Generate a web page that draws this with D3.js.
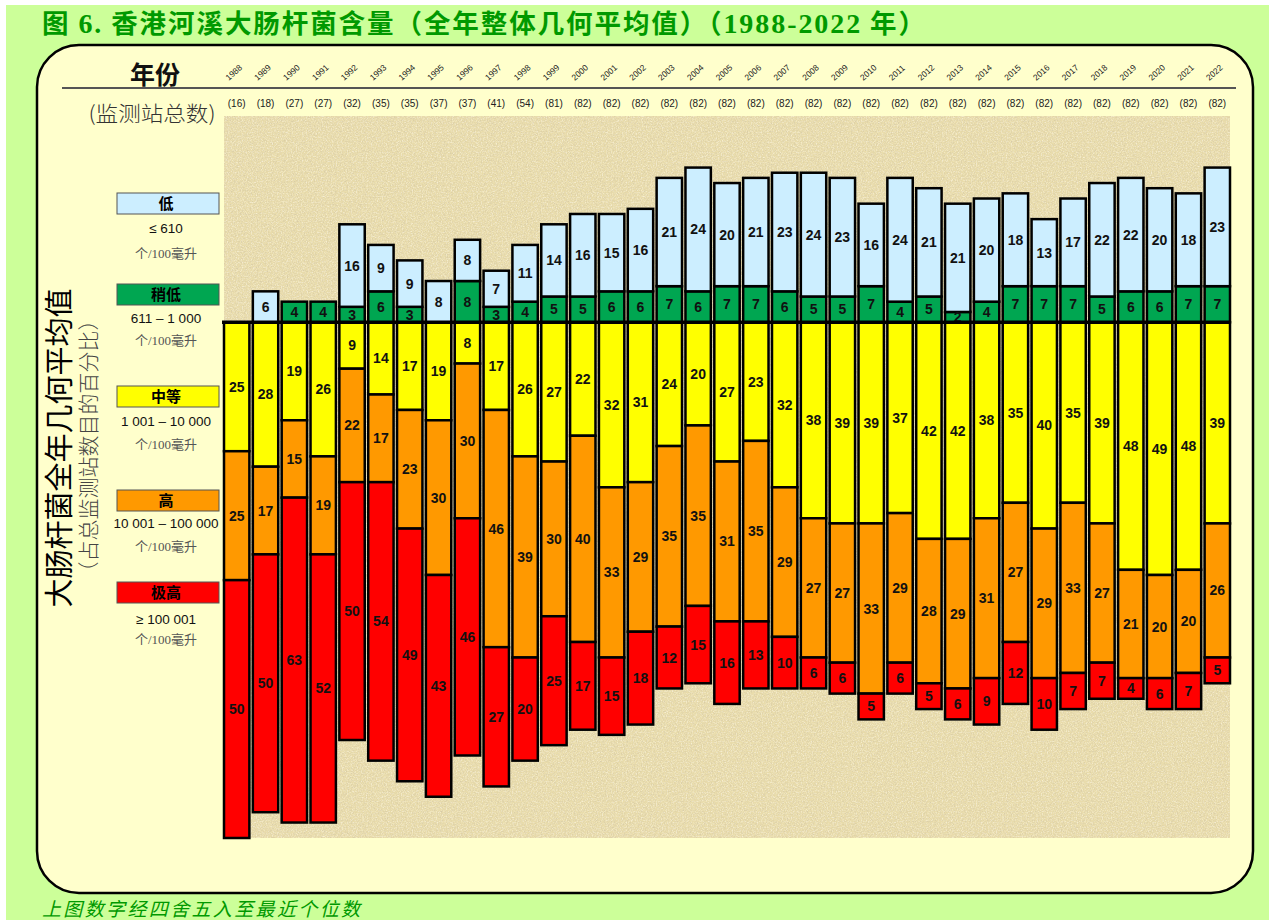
<!DOCTYPE html>
<html>
<head>
<meta charset="utf-8">
<script src="https://cdn.jsdelivr.net/npm/d3@7"></script>
<style>
  html, body { margin: 0; padding: 0; background: #ffffff; }
  svg { display: block; }
</style>
</head>
<body>
<svg id="chart" width="1269" height="920"></svg>
<script>
// ---------------- DATA ----------------
const years = ["1988","1989","1990","1991","1992","1993","1994","1995","1996","1997","1998","1999","2000","2001","2002","2003","2004","2005","2006","2007","2008","2009","2010","2011","2012","2013","2014","2015","2016","2017","2018","2019","2020","2021","2022"];
const stations = [16,18,27,27,32,35,35,37,37,41,54,81,82,82,82,82,82,82,82,82,82,82,82,82,82,82,82,82,82,82,82,82,82,82,82];
// percentages of stations in each grade
const low      = [0,6,0,0,16,9,9,8,8,7,11,14,16,15,16,21,24,20,21,23,24,23,16,24,21,21,20,18,13,17,22,22,20,18,23];
const fairlyLow= [0,0,4,4,3,6,3,0,8,3,4,5,5,6,6,7,6,7,7,6,5,5,7,4,5,2,4,7,7,7,5,6,6,7,7];
const moderate = [25,28,19,26,9,14,17,19,8,17,26,27,22,32,31,24,20,27,23,32,38,39,39,37,42,42,38,35,40,35,39,48,49,48,39];
const high     = [25,17,15,19,22,17,23,30,30,46,39,30,40,33,29,35,35,31,35,29,27,27,33,29,28,29,31,27,29,33,27,21,20,20,26];
const veryHigh = [50,50,63,52,50,54,49,43,46,27,20,25,17,15,18,12,15,16,13,10,6,6,5,6,5,6,9,12,10,7,7,4,6,7,5];

const gradeNames  = ["低","稍低","中等","高","极高"];
const gradeRanges = ["≤ 610","611 – 1 000","1 001 – 10 000","10 001 – 100 000","≥ 100 001"];
const gradeUnit   = "个/100毫升";
const gradeColors = ["#cceeff","#00a651","#ffff00","#ff9900","#ff0000"];

const titleParts  = [["图 ","cjk"],["6.","ser"],[" 香港河溪大肠杆菌含量（全年整体几何平均值）（","cjk"],["1988-2022","ser"],[" 年）","cjk"]];
const yTitle1     = "大肠杆菌全年几何平均值";
const yTitle2     = "（占总监测站数目的百分比）";
const yearHeader  = "年份";
const stationHeader = "(监测站总数)";
const footnote    = "上图数字经四舍五入至最近个位数";

// ---------------- LAYOUT ----------------
const svg = d3.select("#chart");
const plot = {left: 224, right: 1230, top: 116, bottom: 838};

const x = d3.scaleBand().domain(years).range([plot.left, plot.right]).paddingInner(0.12).paddingOuter(0);
const y = d3.scaleLinear().domain([-100, 40]).range([plot.bottom, plot.top]);

// defs: texture
const defs = svg.append("defs");
const f = defs.append("filter").attr("id","sand").attr("x",0).attr("y",0).attr("width",1).attr("height",1);
f.append("feTurbulence").attr("type","fractalNoise").attr("baseFrequency","0.7").attr("numOctaves",3).attr("seed",3).attr("result","n");
f.append("feColorMatrix").attr("in","n").attr("type","matrix")
  .attr("values","0 0 0 0 0.66  0 0 0 0 0.58  0 0 0 0 0.38  2.2 0 0 0 -0.95").attr("result","c");
f.append("feComposite").attr("in","c").attr("in2","SourceGraphic").attr("operator","in");
const f2 = defs.append("filter").attr("id","sand2").attr("x",0).attr("y",0).attr("width",1).attr("height",1);
f2.append("feTurbulence").attr("type","fractalNoise").attr("baseFrequency","0.8").attr("numOctaves",2).attr("seed",9).attr("result","n");
f2.append("feColorMatrix").attr("in","n").attr("type","matrix")
  .attr("values","0 0 0 0 1  0 0 0 0 0.96  0 0 0 0 0.82  2.2 0 0 0 -1.0").attr("result","c");
f2.append("feComposite").attr("in","c").attr("in2","SourceGraphic").attr("operator","in");

// page background
svg.append("rect").attr("x",6).attr("y",5).attr("width",1263).attr("height",915).attr("fill","#ccff99");

// title
const title = svg.append("text").attr("x",42).attr("y",33)
  .attr("font-weight","bold").attr("fill","#009900")
  .attr("textLength",883).attr("lengthAdjust","spacing");
titleParts.forEach(([t,k]) => {
  title.append("tspan")
    .attr("font-family", k === "ser" ? "'Liberation Serif', serif" : "'Noto Sans CJK SC', sans-serif")
    .attr("font-size", k === "ser" ? 28 : 26.5)
    .text(t);
});

// panel
svg.append("rect").attr("x",37).attr("y",45).attr("width",1216).attr("height",848)
  .attr("rx",42).attr("ry",42).attr("fill","#ffffcc").attr("stroke","#000").attr("stroke-width",2.5);

// plot background
svg.append("rect").attr("x",plot.left).attr("y",plot.top).attr("width",plot.right-plot.left).attr("height",plot.bottom-plot.top)
  .attr("fill","#e9dcab");
svg.append("rect").attr("x",plot.left).attr("y",plot.top).attr("width",plot.right-plot.left).attr("height",plot.bottom-plot.top)
  .attr("fill","#fff").attr("filter","url(#sand)").attr("opacity",0.8);
svg.append("rect").attr("x",plot.left).attr("y",plot.top).attr("width",plot.right-plot.left).attr("height",plot.bottom-plot.top)
  .attr("fill","#fff").attr("filter","url(#sand2)").attr("opacity",0.7);

// header
svg.append("text").attr("x",155).attr("y",84).attr("text-anchor","middle")
  .attr("font-family","'Noto Sans CJK SC', sans-serif").attr("font-weight","bold").attr("font-size",25).attr("fill","#111")
  .text(yearHeader);
svg.append("line").attr("x1",62).attr("x2",1236).attr("y1",88).attr("y2",88).attr("stroke","#555").attr("stroke-width",2);
svg.append("text").attr("x",152).attr("y",121).attr("text-anchor","middle")
  .attr("font-family","'Noto Sans CJK SC', sans-serif").attr("font-weight",300).attr("font-size",21).attr("fill","#333")
  .attr("textLength",127).attr("lengthAdjust","spacingAndGlyphs")
  .text(stationHeader);

// year labels (rotated)
const yearG = svg.append("g");
years.forEach((yr) => {
  const cx = x(yr) + x.bandwidth()/2;
  yearG.append("text").attr("transform",`translate(${cx-8},${81}) rotate(-42)`)
    .attr("font-family","'Liberation Sans', Arial, sans-serif").attr("font-size",8.5).attr("fill","#222")
    .text(yr);
});
const stG = svg.append("g");
years.forEach((yr,i) => {
  const cx = x(yr) + x.bandwidth()/2;
  stG.append("text").attr("x",cx).attr("y",107).attr("text-anchor","middle")
    .attr("font-family","'Liberation Sans', Arial, sans-serif").attr("font-size",10).attr("fill","#222")
    .text(`(${stations[i]})`);
});

// stacked segments
const segs = [];
years.forEach((yr,i) => {
  let top = 0;
  [[fairlyLow[i],1],[low[i],0]].forEach(([v,g]) => {
    if (v > 0) { segs.push({yr, g, v, y0: top, y1: top + v}); top += v; }
  });
  let bot = 0;
  [[moderate[i],2],[high[i],3],[veryHigh[i],4]].forEach(([v,g]) => {
    if (v > 0) { segs.push({yr, g, v, y0: bot, y1: bot - v}); bot -= v; }
  });
});

const barG = svg.append("g");
barG.selectAll("rect").data(segs).join("rect")
  .attr("x", d => x(d.yr))
  .attr("width", x.bandwidth())
  .attr("y", d => Math.min(y(d.y0), y(d.y1)))
  .attr("height", d => Math.abs(y(d.y0) - y(d.y1)))
  .attr("fill", d => gradeColors[d.g])
  .attr("stroke","#000").attr("stroke-width",2.5);

barG.selectAll("text").data(segs).join("text")
  .attr("x", d => x(d.yr) + x.bandwidth()/2)
  .attr("y", d => (y(d.y0) + y(d.y1))/2 + 5)
  .attr("text-anchor","middle")
  .attr("font-family","'Liberation Sans', Arial, sans-serif").attr("font-weight","bold").attr("font-size",14).attr("fill","#111")
  .text(d => d.v);

// baseline
svg.append("line").attr("x1",plot.left-2).attr("x2",plot.right).attr("y1",y(0)).attr("y2",y(0))
  .attr("stroke","#000").attr("stroke-width",3.5);

// legend
const legendY = [193, 284, 386, 490, 582];
const rangeY = [233, 323, 426, 528, 624];
const unitY = [258, 345, 449, 551, 644];
gradeNames.forEach((nm,i) => {
  svg.append("rect").attr("x",117).attr("y",legendY[i]).attr("width",102).attr("height",21)
    .attr("fill",gradeColors[i]).attr("stroke","#555").attr("stroke-width",1);
  svg.append("text").attr("x",166).attr("y",legendY[i]+16).attr("text-anchor","middle")
    .attr("font-family","'Noto Sans CJK SC', sans-serif").attr("font-weight","bold").attr("font-size",15).attr("fill","#000")
    .text(nm);
  svg.append("text").attr("x",166).attr("y",rangeY[i]).attr("text-anchor","middle")
    .attr("font-family","'Liberation Sans', Arial, sans-serif").attr("font-size",13.5).attr("fill","#111")
    .text(gradeRanges[i]);
  svg.append("text").attr("x",166).attr("y",unitY[i]).attr("text-anchor","middle")
    .attr("font-family","'Liberation Serif', 'Noto Sans CJK SC', serif").attr("font-size",13).attr("fill","#555")
    .text(gradeUnit);
});

// vertical axis titles
svg.append("text").attr("transform","translate(70,448) rotate(-90)").attr("text-anchor","middle")
  .attr("font-family","'Noto Sans CJK SC', sans-serif").attr("font-size",29).attr("fill","#000")
  .text(yTitle1);
svg.append("text").attr("transform","translate(96,446) rotate(-90)").attr("text-anchor","middle")
  .attr("font-family","'Noto Sans CJK SC', sans-serif").attr("font-weight",300).attr("font-size",21).attr("fill","#444")
  .text(yTitle2);

// footnote
svg.append("text").attr("x",42).attr("y",916)
  .attr("font-family","'Noto Sans CJK SC', sans-serif").attr("font-style","italic").attr("font-size",19).attr("fill","#009900")
  .attr("textLength",318).attr("lengthAdjust","spacing")
  .text(footnote);
</script>
</body>
</html>
